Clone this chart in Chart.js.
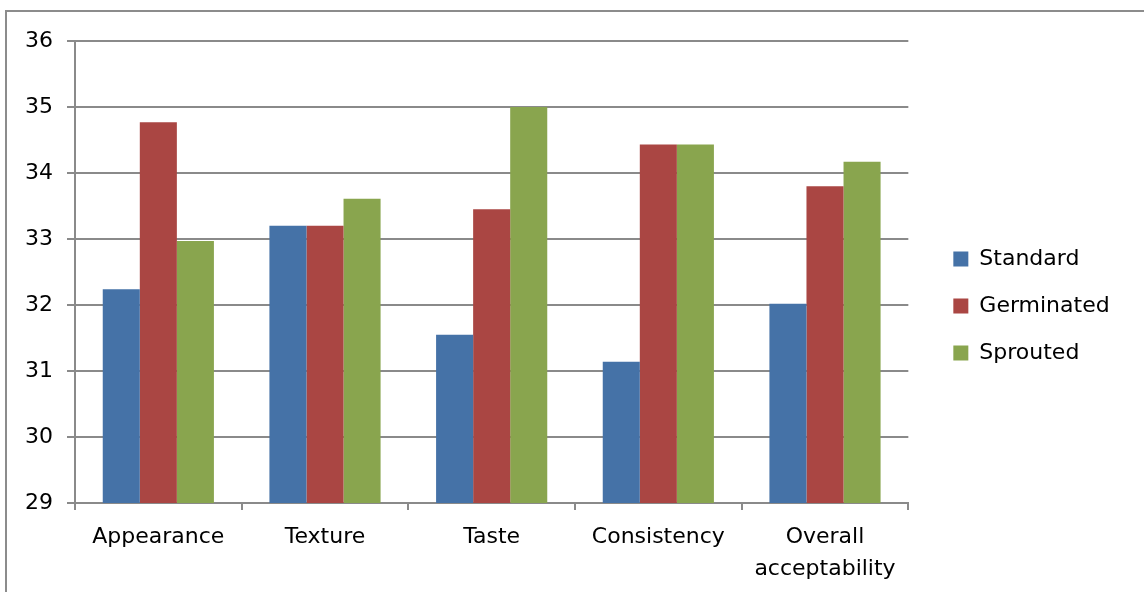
<!DOCTYPE html>
<html>
<head>
<meta charset="utf-8">
<script src="https://cdn.jsdelivr.net/npm/chart.js@4"></script>
<style>
  html, body { margin: 0; padding: 0; background: #fff; overflow: hidden; }
  body { width: 1144px; height: 592px; position: relative; }
  .frame { position: absolute; left: 5px; top: 10px; width: 1200px; height: 700px; border: 2px solid #8c8c8c; }
  .wrap { position: absolute; left: 0; top: 0; width: 1144px; height: 592px; }
</style>
</head>
<body>
<div class="frame"></div>
<div class="wrap"><canvas id="chart"></canvas></div>
<script>
const categories = ["Appearance", "Texture", "Taste", "Consistency", ["Overall", "acceptability"]];
const standard = [32.24, 33.2, 31.55, 31.14, 32.02];
const germinated = [34.77, 33.2, 33.45, 34.43, 33.8];
const sprouted = [32.97, 33.61, 35.0, 34.43, 34.17];
const yTicks = { min: 29, max: 36, step: 1 };

const gridGray = "#8a8a8a";
const font = { family: "'DejaVu Sans', sans-serif", size: 22 };

// nudge the legend up a little so it sits centred on the plot like the original
const legendNudge = {
  id: "legendNudge",
  afterLayout(chart) {
    chart.legend.top -= 6;
    chart.legend.bottom -= 6;
  }
};

const ctx = document.getElementById("chart").getContext("2d");
new Chart(ctx, {
  type: "bar",
  data: {
    labels: categories,
    datasets: [
      { label: "Standard", data: standard, backgroundColor: "#4572A7" },
      { label: "Germinated", data: germinated, backgroundColor: "#AA4643" },
      { label: "Sprouted", data: sprouted, backgroundColor: "#89A54E" }
    ]
  },
  plugins: [legendNudge],
  options: {
    responsive: true,
    maintainAspectRatio: false,
    animation: false,
    datasets: {
      bar: { categoryPercentage: 0.667, barPercentage: 1.0, borderWidth: 0 }
    },
    layout: { padding: { top: 41, left: 10, bottom: 9, right: 32 } },
    plugins: {
      tooltip: { enabled: false },
      legend: {
        position: "right",
        labels: {
          color: "#000",
          font: font,
          boxWidth: 15,
          boxHeight: 15,
          padding: 25
        }
      }
    },
    scales: {
      x: {
        grid: { drawOnChartArea: false, drawTicks: true, tickLength: 7, color: gridGray, lineWidth: 2 },
        border: { color: gridGray, width: 2 },
        ticks: { color: "#000", font: { ...font, lineHeight: 1.45 }, padding: 11, maxRotation: 0, autoSkip: false },
        afterFit: s => { s.height = 80; }
      },
      y: {
        min: yTicks.min,
        max: yTicks.max,
        grid: { color: gridGray, lineWidth: 2, tickLength: 8 },
        border: { color: gridGray, width: 2 },
        ticks: { stepSize: yTicks.step, color: "#000", font: font, padding: 14 },
        afterFit: s => { s.width = 65; }
      },
      gap: {
        position: "right",
        display: true,
        grid: { display: false },
        border: { display: false },
        ticks: { display: false },
        afterFit: s => { s.width = 20; }
      }
    }
  }
});
</script>
</body>
</html>
